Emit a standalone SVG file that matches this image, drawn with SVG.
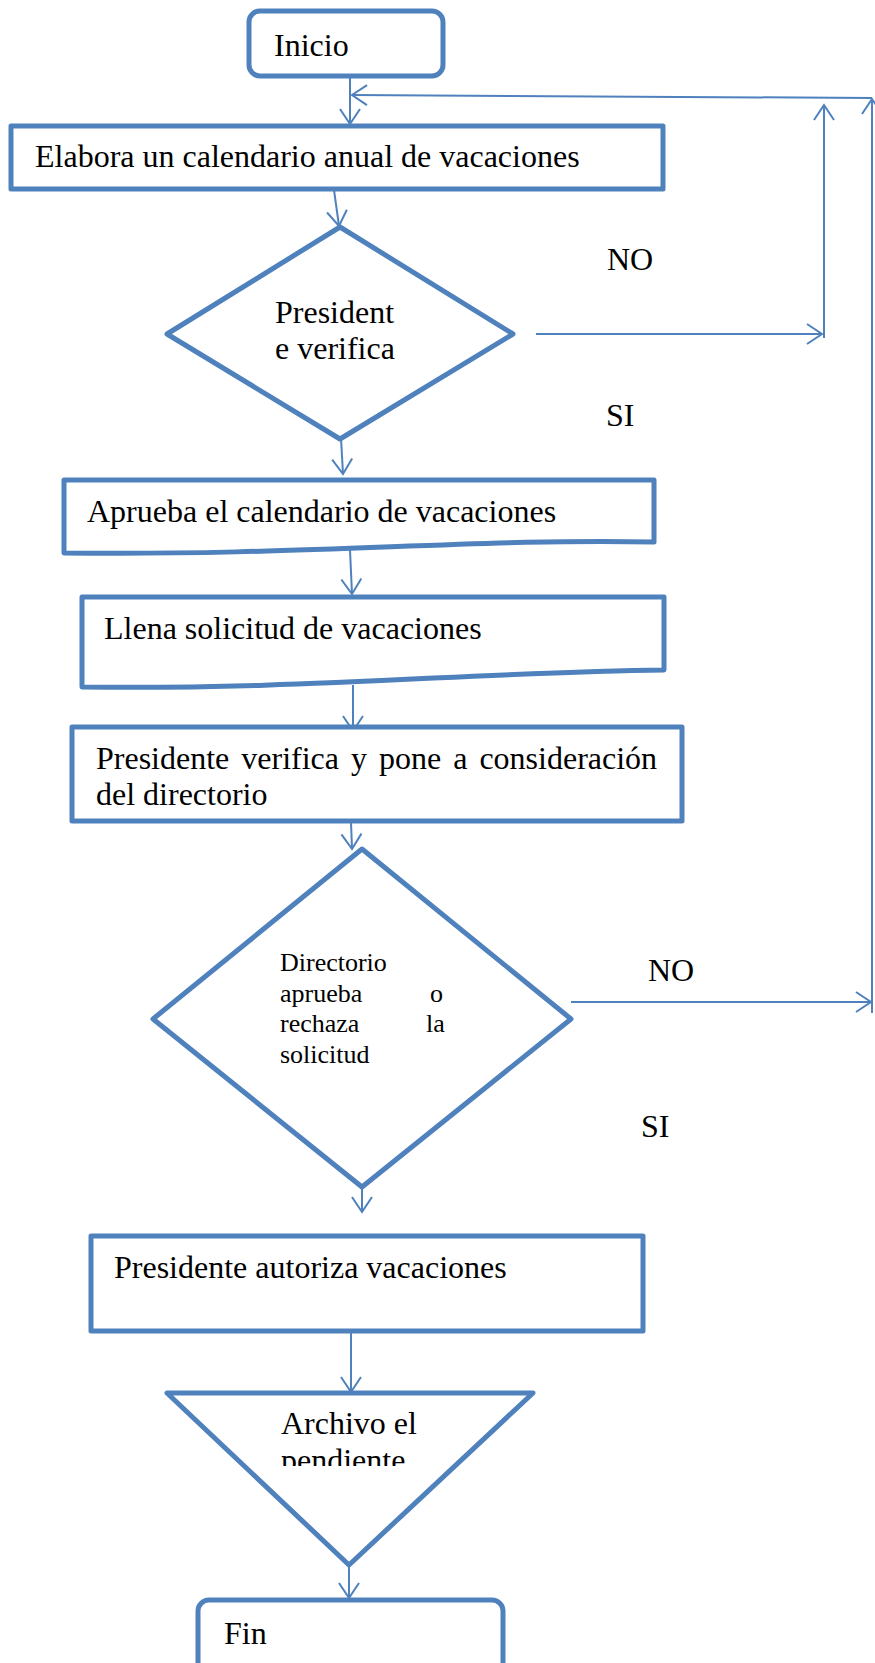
<svg xmlns="http://www.w3.org/2000/svg" width="875" height="1663" viewBox="0 0 875 1663">
  <style>
    .shape { fill: #ffffff; stroke: #4F81BD; stroke-width: 5; stroke-linejoin: round; }
    .conn { fill: none; stroke: #4F81BD; stroke-width: 2; }
    .t { font-family: "Liberation Serif", "Times New Roman", serif; font-size: 32px; fill: #000000; }
    .ts { font-family: "Liberation Serif", "Times New Roman", serif; font-size: 26px; fill: #000000; }
  </style>
  <defs>
    <marker id="arrow" markerUnits="userSpaceOnUse" viewBox="-17 -12 20 24" refX="0" refY="0" markerWidth="20" markerHeight="24" orient="auto">
      <path d="M-15,-10 L0,0 L-15,10" fill="none" stroke="#4F81BD" stroke-width="2"/>
    </marker>
    <clipPath id="clipArchivo">
      <rect x="170" y="1395" width="360" height="71"/>
    </clipPath>
  </defs>

  <rect width="875" height="1663" fill="#ffffff"/>

  <!-- connectors -->
  <g id="connectors">
    <line class="conn" x1="350" y1="77" x2="350" y2="124" marker-end="url(#arrow)"/>
    <line class="conn" x1="872" y1="98" x2="352" y2="95" marker-end="url(#arrow)"/>
    <line class="conn" x1="872" y1="1013" x2="872" y2="99" marker-end="url(#arrow)"/>
    <line class="conn" x1="334" y1="190" x2="339" y2="226" marker-end="url(#arrow)"/>
    <line class="conn" x1="536" y1="334" x2="822" y2="334" marker-end="url(#arrow)"/>
    <line class="conn" x1="824" y1="338" x2="824" y2="105" marker-end="url(#arrow)"/>
    <line class="conn" x1="341" y1="438" x2="343" y2="474" marker-end="url(#arrow)"/>
    <line class="conn" x1="350" y1="550" x2="352" y2="594" marker-end="url(#arrow)"/>
    <line class="conn" x1="353" y1="685" x2="353" y2="731" marker-end="url(#arrow)"/>
    <line class="conn" x1="351" y1="822" x2="352" y2="849" marker-end="url(#arrow)"/>
    <line class="conn" x1="571" y1="1002" x2="871" y2="1002" marker-end="url(#arrow)"/>
    <line class="conn" x1="362" y1="1167" x2="362" y2="1212" marker-end="url(#arrow)"/>
    <line class="conn" x1="351" y1="1331" x2="351" y2="1392" marker-end="url(#arrow)"/>
    <line class="conn" x1="349" y1="1566" x2="349" y2="1598" marker-end="url(#arrow)"/>
  </g>

  <!-- start -->
  <g id="inicio">
    <rect class="shape" x="249" y="11" width="194" height="65" rx="11"/>
    <text class="t" x="274" y="56">Inicio</text>
  </g>

  <g id="elabora">
    <rect class="shape" x="11" y="126" width="652" height="63" stroke-linejoin="miter"/>
    <text class="t" x="35" y="167">Elabora un calendario anual de vacaciones</text>
  </g>

  <g id="decision-presidente">
    <polygon class="shape" points="340,227 513,334 340,439 167,334"/>
    <text class="t" x="275" y="323">President</text>
    <text class="t" x="275" y="359">e verifica</text>
  </g>

  <g id="aprueba">
    <path class="shape" d="M64,480 H654 V542 C480,538 300,556 64,553 Z"/>
    <text class="t" x="87" y="522">Aprueba el calendario de vacaciones</text>
  </g>

  <g id="llena">
    <path class="shape" d="M82,597 H664 V670 C480,672 300,690 82,687 Z"/>
    <text class="t" x="104" y="639">Llena solicitud de vacaciones</text>
  </g>

  <g id="pone-consideracion">
    <rect class="shape" x="72" y="727" width="610" height="94" stroke-linejoin="miter"/>
    <text class="t" x="96" y="769" word-spacing="4">Presidente verifica y pone a consideración</text>
    <text class="t" x="96" y="805">del directorio</text>
  </g>

  <g id="decision-directorio">
    <polygon class="shape" points="362,849 571,1019 362,1187 153,1019"/>
    <text class="ts" x="280" y="971">Directorio</text>
    <text class="ts" x="280" y="1002">aprueba</text>
    <text class="ts" x="430" y="1002">o</text>
    <text class="ts" x="280" y="1032">rechaza</text>
    <text class="ts" x="426" y="1032">la</text>
    <text class="ts" x="280" y="1063">solicitud</text>
  </g>

  <g id="labels">
    <text class="t" x="607" y="270">NO</text>
    <text class="t" x="606" y="426">SI</text>
    <text class="t" x="648" y="981">NO</text>
    <text class="t" x="641" y="1137">SI</text>
  </g>

  <g id="autoriza">
    <rect class="shape" x="91" y="1236" width="552" height="95" stroke-linejoin="miter"/>
    <text class="t" x="114" y="1278">Presidente autoriza vacaciones</text>
  </g>

  <g id="archivo">
    <polygon class="shape" points="167,1393 533,1393 349,1565"/>
    <g clip-path="url(#clipArchivo)">
      <text class="t" x="281" y="1434">Archivo el</text>
      <text class="t" x="281" y="1471">pendiente</text>
    </g>
  </g>

  <g id="fin">
    <rect class="shape" x="198" y="1600" width="305" height="80" rx="11"/>
    <text class="t" x="224" y="1644">Fin</text>
  </g>
</svg>
